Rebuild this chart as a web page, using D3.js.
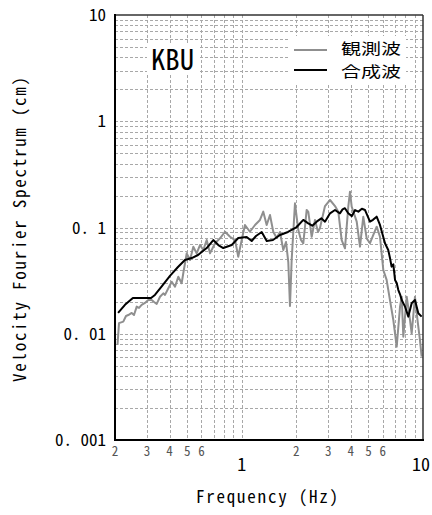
<!DOCTYPE html>
<html>
<head>
<meta charset="utf-8">
<script src="https://cdn.jsdelivr.net/npm/d3@7"></script>
<style>
  html, body { margin: 0; padding: 0; background: #ffffff; }
  svg { display: block; }
  text { font-family: "Noto Sans Mono CJK JP", "Noto Sans CJK JP", "DejaVu Sans Mono", monospace; }
</style>
</head>
<body>
<svg id="chart" width="432" height="515"></svg>
<script>
// Station name and legend entries
const station = "KBU";
const seriesNames = ["観測波", "合成波"];

// Observed record (Hz, cm)
const obsFreq = [0.2065, 0.2104, 0.2222, 0.2300, 0.2368, 0.2473, 0.2546, 0.2635, 0.2713, 0.2806,
  0.2926, 0.3052, 0.3188, 0.3283, 0.3397, 0.3542, 0.3694, 0.3775, 0.3937, 0.411,
  0.4287, 0.4468, 0.4665, 0.4761, 0.4972, 0.5186, 0.5408, 0.5642, 0.5886, 0.614,
  0.641, 0.6684, 0.7124, 0.7592, 0.809, 0.8621, 0.9187, 0.957, 0.9996, 1.042,
  1.11, 1.184, 1.261, 1.315, 1.373, 1.432, 1.493, 1.559, 1.626, 1.696,
  1.755, 1.807, 1.846, 1.886, 1.967, 2.052, 2.122, 2.186, 2.282, 2.33,
  2.432, 2.536, 2.636, 2.702, 2.88, 3.07, 3.27, 3.41, 3.56, 3.712,
  3.872, 3.956, 4.042, 4.308, 4.492, 4.684, 4.89, 5.10, 5.32, 5.554,
  5.79, 6.04, 6.30, 6.57, 6.86, 7.16, 7.47, 7.63, 7.79, 8.13,
  8.48, 8.66, 9.03, 9.23, 9.62, 9.83];
const obsAmp = [0.00783, 0.0126, 0.0130, 0.0147, 0.0150, 0.0157, 0.0150, 0.0180, 0.0175, 0.0187,
  0.0195, 0.0208, 0.0208, 0.0199, 0.0191, 0.0223, 0.0240, 0.0232, 0.0268, 0.0309,
  0.0277, 0.0344, 0.0299, 0.0371, 0.0571, 0.0494, 0.0659, 0.0571, 0.0684, 0.0614,
  0.0762, 0.0571, 0.0710, 0.0791, 0.0912, 0.0818, 0.0762, 0.0531, 0.0762, 0.1056,
  0.0912, 0.1056, 0.1178, 0.1410, 0.1056, 0.1312, 0.0912, 0.0796, 0.0908, 0.0614,
  0.0731, 0.0473, 0.01824, 0.0494, 0.169, 0.0947, 0.0762, 0.0710, 0.1462, 0.140,
  0.0818, 0.1178, 0.0908, 0.0989, 0.1592, 0.1815, 0.1592, 0.141, 0.0762, 0.0637,
  0.157, 0.2173, 0.157, 0.1135, 0.0659, 0.1265, 0.0791, 0.0711, 0.085, 0.1018,
  0.0818, 0.0398, 0.0321, 0.0208, 0.01346, 0.00755, 0.018, 0.0223, 0.00938, 0.0223,
  0.01346, 0.0101, 0.0223, 0.0156, 0.00873, 0.00608];

// Synthetic record (Hz, cm)
const synFreq = [0.208, 0.227, 0.251, 0.282, 0.316, 0.332, 0.363, 0.402, 0.445, 0.486,
  0.530, 0.574, 0.641, 0.697, 0.743, 0.791, 0.881, 0.957, 1.065, 1.135,
  1.199, 1.289, 1.374, 1.487, 1.626, 1.80, 2.01, 2.186, 2.328, 2.45,
  2.59, 2.75, 2.88, 3.07, 3.27, 3.48, 3.60, 3.71, 3.87, 4.05,
  4.22, 4.40, 4.60, 4.79, 5.10, 5.30, 5.55, 5.79, 6.17, 6.43,
  6.57, 6.71, 6.86, 7.01, 7.16, 7.31, 7.47, 7.63, 7.96, 8.30,
  8.66, 9.03, 9.42, 9.83];
const synAmp = [0.0157, 0.0187, 0.0217, 0.0217, 0.0217, 0.0232, 0.0281, 0.0350, 0.0425, 0.0494,
  0.0516, 0.0551, 0.0641, 0.0762, 0.0684, 0.0641, 0.0684, 0.0796, 0.0814, 0.0746,
  0.0832, 0.0908, 0.0746, 0.0762, 0.0850, 0.0908, 0.101, 0.1178, 0.1094, 0.104,
  0.1135, 0.122, 0.1135, 0.136, 0.146, 0.136, 0.148, 0.152, 0.136, 0.128,
  0.146, 0.141, 0.150, 0.146, 0.1135, 0.118, 0.1265, 0.1056, 0.071, 0.0614,
  0.052, 0.0428, 0.045, 0.0321, 0.030, 0.0258, 0.0235, 0.0208, 0.018, 0.0145,
  0.0194, 0.0208, 0.0156, 0.0145];

// Axis tick labels
const yTickValues = [10, 1, 0.1, 0.01, 0.001];
const yTickLabels = ["10", "1", "0. 1", "0. 01", "0. 001"];
const xMinorValues = [0.2, 0.3, 0.4, 0.5, 0.6, 2, 3, 4, 5, 6];
const xMinorLabels = ["2", "3", "4", "5", "6", "2", "3", "4", "5", "6"];
const xMajorValues = [1, 10];
const xMajorLabels = ["1", "10"];
const xTitle = "Frequency (Hz)";
const yTitle = "Velocity Fourier Spectrum (cm)";

const svg = d3.select("#chart");
const x = d3.scaleLog().domain([0.2, 10]).range([115, 423]);
const y = d3.scaleLog().domain([0.001, 10]).range([440, 15]);

// Grid lines at every 1..9 multiple inside the plot
const xGrid = [];
[0.1, 1].forEach(d => { for (let m = 1; m <= 9; m++) { const v = +(d * m).toPrecision(3); if (v > 0.2 && v < 10) xGrid.push(v); } });
const yGrid = [];
[0.001, 0.01, 0.1, 1].forEach(d => { for (let m = 1; m <= 9; m++) { const v = +(d * m).toPrecision(3); if (v > 0.001 && v < 10) yGrid.push(v); } });

const grid = svg.append("g").attr("stroke", "#a8a8a8").attr("stroke-width", 1).attr("stroke-dasharray", "3,2");
grid.selectAll("line.v").data(xGrid).join("line").attr("class", "v")
  .attr("x1", d => Math.round(x(d)) + 0.5).attr("x2", d => Math.round(x(d)) + 0.5)
  .attr("y1", y(10)).attr("y2", y(0.001));
grid.selectAll("line.h").data(yGrid).join("line").attr("class", "h")
  .attr("y1", d => Math.round(y(d)) + 0.5).attr("y2", d => Math.round(y(d)) + 0.5)
  .attr("x1", x(0.2)).attr("x2", x(10));

// Series
const line = d3.line().x(d => x(d[0])).y(d => y(d[1]));
const obs = d3.zip(obsFreq, obsAmp);
const syn = d3.zip(synFreq, synAmp);
svg.append("path").datum(obs).attr("d", line)
  .attr("fill", "none").attr("stroke", "#8f8f8f").attr("stroke-width", 2).attr("stroke-linejoin", "round");
svg.append("path").datum(syn).attr("d", line)
  .attr("fill", "none").attr("stroke", "#000").attr("stroke-width", 2).attr("stroke-linejoin", "round");

// Frame
svg.append("line").attr("x1", x(0.2)).attr("x2", x(10)).attr("y1", y(10)).attr("y2", y(10)).attr("stroke", "#333").attr("stroke-width", 1.5);
svg.append("line").attr("x1", x(10)).attr("x2", x(10)).attr("y1", y(10)).attr("y2", y(0.001)).attr("stroke", "#333").attr("stroke-width", 1.5);
svg.append("line").attr("x1", x(0.2)).attr("x2", x(0.2)).attr("y1", y(10) - 1).attr("y2", y(0.001) + 1).attr("stroke", "#000").attr("stroke-width", 2);
svg.append("line").attr("x1", x(0.2) - 1).attr("x2", x(10) + 1).attr("y1", y(0.001)).attr("y2", y(0.001)).attr("stroke", "#000").attr("stroke-width", 2);

// Station label
svg.append("rect").attr("x", 147).attr("y", 44).attr("width", 52).attr("height", 29).attr("fill", "#fff");
svg.append("text").attr("x", 151).attr("y", 69.5).attr("font-size", 29)
  .attr("font-family", "Liberation Sans, Arial, sans-serif")
  .attr("textLength", 43).attr("lengthAdjust", "spacingAndGlyphs").attr("fill", "#000").text(station);

// Legend
svg.append("rect").attr("x", 290).attr("y", 36).attr("width", 116).attr("height", 47).attr("fill", "#fff");
const legColors = ["#8f8f8f", "#000"];
const legY = [50, 70];
const legTextY = [48.5, 71.5];
seriesNames.forEach((name, i) => {
  svg.append("line").attr("x1", 294).attr("x2", 327).attr("y1", legY[i]).attr("y2", legY[i])
    .attr("stroke", legColors[i]).attr("stroke-width", 2);
  svg.append("text").attr("x", 341).attr("y", legTextY[i]).attr("dy", "0.36em")
    .attr("font-size", 15).attr("textLength", 60).attr("lengthAdjust", "spacingAndGlyphs")
    .attr("fill", "#000").text(name);
});

// Y tick labels
svg.selectAll("text.ytick").data(yTickValues).join("text").attr("class", "ytick")
  .attr("x", 106).attr("y", d => y(d)).attr("dy", "0.36em").attr("text-anchor", "end")
  .attr("font-size", 17).attr("fill", "#000")
  .text((d, i) => yTickLabels[i]);

// X tick labels
svg.selectAll("text.xminor").data(xMinorValues).join("text").attr("class", "xminor")
  .attr("x", d => x(d)).attr("y", 451).attr("dy", "0.36em").attr("text-anchor", "middle")
  .attr("font-size", 13).attr("fill", "#555")
  .text((d, i) => xMinorLabels[i]);
svg.selectAll("text.xmajor").data(xMajorValues).join("text").attr("class", "xmajor")
  .attr("x", (d, i) => x(d) - (i === 1 ? 2 : 0)).attr("y", 465).attr("dy", "0.36em").attr("text-anchor", "middle")
  .attr("font-size", 18).attr("fill", "#000")
  .text((d, i) => xMajorLabels[i]);

// Axis titles
svg.append("text").attr("x", 196).attr("y", 503).attr("font-size", 17)
  .attr("textLength", 142).attr("lengthAdjust", "spacing").attr("fill", "#000").text(xTitle);
svg.append("text").attr("transform", "translate(26,382) rotate(-90)").attr("font-size", 17)
  .attr("textLength", 305).attr("lengthAdjust", "spacing").attr("fill", "#000").text(yTitle);
</script>
</body>
</html>
